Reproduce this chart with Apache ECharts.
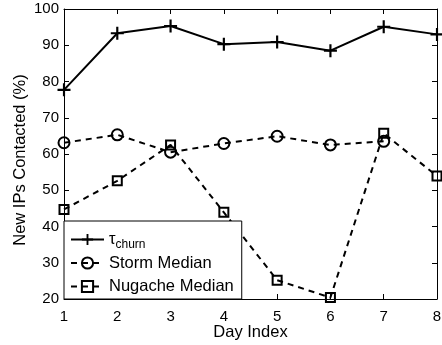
<!DOCTYPE html>
<html>
<head>
<meta charset="utf-8">
<script src="https://cdn.jsdelivr.net/npm/echarts@6/dist/echarts.min.js"></script>
<style>
  html, body { margin: 0; padding: 0; background: #fff; }
  #chart { width: 442px; height: 345px; }
</style>
</head>
<body>
<div id="chart"></div>
<script>
// Day index on the x axis
const days = [1, 2, 3, 4, 5, 6, 7, 8];
const xTicks = ['1', '2', '3', '4', '5', '6', '7', '8'];
const yTicks = [20, 30, 40, 50, 60, 70, 80, 90, 100];

// Percentage of new IPs contacted per day
const tauChurn = [77.7, 93.3, 95.3, 90.3, 90.9, 88.5, 95.1, 93.0];
const stormMedian = [63.1, 65.3, 60.5, 62.9, 64.9, 62.5, 63.5, null];
const nugacheMedian = [44.7, 52.6, 62.5, 43.9, 25.2, 20.4, 65.7, 53.9];

const seriesNames = ['tau_churn', 'Storm Median', 'Nugache Median'];

const FONT = 'Liberation Sans, Arial, Helvetica, sans-serif';
const pairs = vals => days.map((d, i) => [d, vals[i] == null ? '-' : vals[i]]);
const plusPath = 'path://M5,0 H7 V5 H12 V7 H7 V12 H5 V7 H0 V5 H5 Z';

const chart = echarts.init(document.getElementById('chart'), null, { renderer: 'canvas' });

const axisCommon = {
  axisLine: { show: true, lineStyle: { color: '#000', width: 1 } },
  axisTick: { show: true, inside: true, length: 5, lineStyle: { color: '#000', width: 1 } },
  splitLine: { show: false }
};

chart.setOption({
  animation: false,
  backgroundColor: '#fff',
  grid: { left: 64, right: 5, top: 9, bottom: 46, containLabel: false, outerBoundsMode: 'none' },
  xAxis: [
    Object.assign({
      type: 'value', min: days[0], max: days[days.length - 1], interval: 1,
      position: 'bottom',
      name: 'Day Index', nameLocation: 'middle', nameGap: 25, nameMoveOverlap: false,
      nameTextStyle: { fontFamily: FONT, fontSize: 16.5, color: '#000' },
      axisLabel: {
        margin: 10, fontFamily: FONT, fontSize: 15, color: '#000',
        formatter: v => xTicks[days.indexOf(v)] ?? ''
      }
    }, axisCommon),
    Object.assign({
      type: 'value', min: days[0], max: days[days.length - 1], interval: 1,
      position: 'top', axisLabel: { show: false }
    }, axisCommon)
  ],
  yAxis: [
    Object.assign({
      type: 'value', min: yTicks[0], max: yTicks[yTicks.length - 1], interval: 10,
      position: 'left',
      name: 'New IPs Contacted (%)', nameLocation: 'middle', nameGap: 35, nameMoveOverlap: false,
      nameTextStyle: { fontFamily: FONT, fontSize: 16.5, color: '#000', padding: [0, 12, 0, 0] },
      axisLabel: { margin: 5, fontFamily: FONT, fontSize: 15, color: '#000' }
    }, axisCommon),
    Object.assign({
      type: 'value', min: yTicks[0], max: yTicks[yTicks.length - 1], interval: 10,
      position: 'right', axisLabel: { show: false }
    }, axisCommon)
  ],
  legend: {
    orient: 'vertical',
    left: 64, bottom: 46,
    padding: [7.5, 8, 1.5, 6],
    itemGap: 1.5,
    itemWidth: 33, itemHeight: 14,
    backgroundColor: '#fff',
    borderColor: '#000', borderWidth: 1,
    selectedMode: false,
    data: seriesNames,
    formatter: name => name === 'tau_churn' ? '{t|τ}{s|churn}' : name,
    textStyle: {
      fontFamily: FONT, fontSize: 16.5, color: '#000', lineHeight: 22,
      rich: {
        t: { fontFamily: FONT, fontSize: 16.5, color: '#000', lineHeight: 22 },
        s: { fontFamily: FONT, fontSize: 12, color: '#000', lineHeight: 12, padding: [10, 0, 0, 0] }
      }
    }
  },
  series: [
    {
      name: seriesNames[0], type: 'line', data: pairs(tauChurn),
      symbol: plusPath, symbolSize: 13,
      itemStyle: { color: '#000' },
      lineStyle: { color: '#000', width: 2, type: 'solid' }
    },
    {
      name: seriesNames[1], type: 'line', data: pairs(stormMedian),
      symbol: 'circle', symbolSize: 11,
      itemStyle: { color: 'rgba(0,0,0,0)', borderColor: '#000', borderWidth: 2 },
      lineStyle: { color: '#000', width: 2, type: [6, 5] }
    },
    {
      name: seriesNames[2], type: 'line', data: pairs(nugacheMedian),
      symbol: 'rect', symbolSize: 9,
      itemStyle: { color: 'rgba(0,0,0,0)', borderColor: '#000', borderWidth: 2 },
      lineStyle: { color: '#000', width: 2, type: [6, 5] }
    }
  ]
});
</script>
</body>
</html>
